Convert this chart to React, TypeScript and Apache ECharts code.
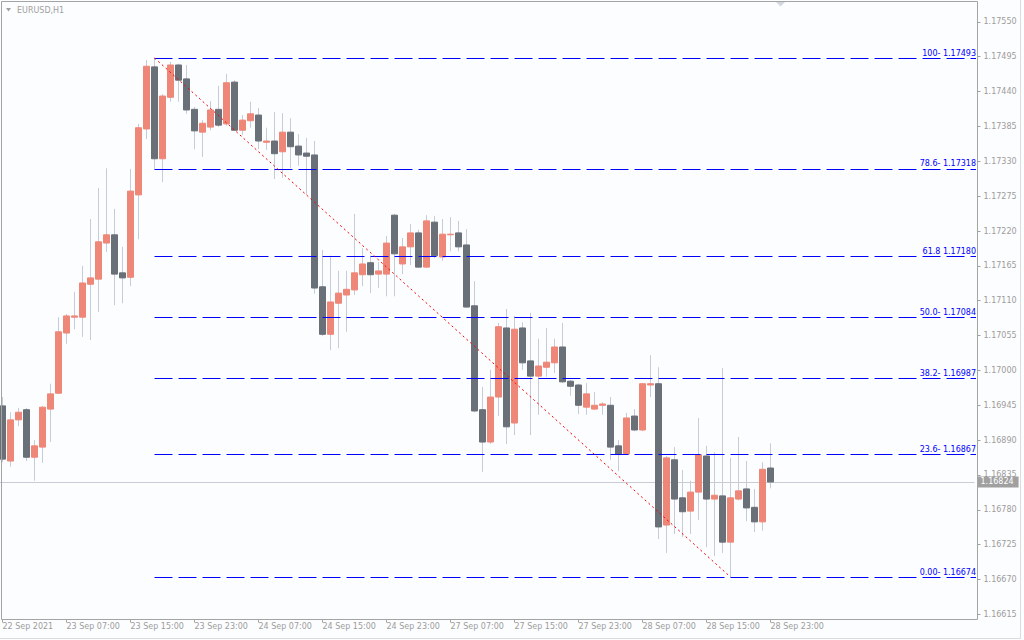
import React, { useEffect, useRef } from "react";
import * as echarts from "echarts";

const FONT = "DejaVu Sans";
const BULL = "#ef8778";
const BEAR = "#6a7078";
const WICK = "#c6cbd8";
const AXIS_TEXT = "#9c9c9c";

// Hourly bars (broker time), plus empty future slots on the right
const firstBar = "22 Sep 23:00";
const days = ["23 Sep", "24 Sep", "27 Sep", "28 Sep", "29 Sep", "30 Sep"];
const hours = Array.from({ length: 24 }, (_, h) => String(h).padStart(2, "0") + ":00");
const categories = [firstBar, ...days.flatMap((d) => hours.map((h) => `${d} ${h}`))].slice(0, 122);

const tickLabels = [
  "22 Sep 2021", "23 Sep 07:00", "23 Sep 15:00", "23 Sep 23:00", "24 Sep 07:00",
  "24 Sep 15:00", "24 Sep 23:00", "27 Sep 07:00", "27 Sep 15:00", "27 Sep 23:00",
  "28 Sep 07:00", "28 Sep 15:00", "28 Sep 23:00",
];

const opens = [
  1.16944, 1.16857, 1.16922, 1.16938, 1.16863, 1.16879, 1.16939, 1.16964, 1.17059, 1.17084,
  1.17084, 1.17136, 1.17144, 1.17201, 1.17214, 1.17154, 1.17147, 1.17277, 1.17381, 1.17479,
  1.17334, 1.17431, 1.17482, 1.17460, 1.17412, 1.17376, 1.17384, 1.17412, 1.17389, 1.17455,
  1.17379, 1.17394, 1.17403, 1.17360, 1.17362, 1.17345, 1.17376, 1.17354, 1.17343, 1.17340,
  1.17132, 1.17057, 1.17106, 1.17119, 1.17127, 1.17151, 1.17170, 1.17152, 1.17152, 1.17245,
  1.17168, 1.17195, 1.17217, 1.17163, 1.17234, 1.17179, 1.17214, 1.17217, 1.17198, 1.17102,
  1.16938, 1.16887, 1.16958, 1.17067, 1.16917, 1.17067, 1.17015, 1.16991, 1.17005, 1.17012,
  1.17037, 1.16983, 1.16977, 1.16942, 1.16939, 1.16945, 1.16945, 1.16881, 1.16868, 1.16928,
  1.16906, 1.16977, 1.16979, 1.16756, 1.16859, 1.16799, 1.16778, 1.16808, 1.16865, 1.16797,
  1.16802, 1.16729, 1.16797, 1.16813, 1.16784, 1.16761, 1.16846,
];
const highs = [
  1.16958, 1.16934, 1.16941, 1.16941, 1.16890, 1.16944, 1.16979, 1.17084, 1.17089, 1.17124,
  1.17165, 1.17239, 1.17288, 1.17319, 1.17255, 1.17195, 1.17318, 1.17389, 1.17490, 1.17493,
  1.17436, 1.17487, 1.17484, 1.17482, 1.17416, 1.17395, 1.17425, 1.17449, 1.17468, 1.17458,
  1.17403, 1.17424, 1.17414, 1.17383, 1.17408, 1.17406, 1.17398, 1.17373, 1.17367, 1.17362,
  1.17190, 1.17181, 1.17157, 1.17157, 1.17247, 1.17193, 1.17181, 1.17171, 1.17212, 1.17247,
  1.17209, 1.17231, 1.17222, 1.17245, 1.17244, 1.17239, 1.17242, 1.17236, 1.17223, 1.17141,
  1.16974, 1.17001, 1.17075, 1.17097, 1.17086, 1.17076, 1.17091, 1.17050, 1.17067, 1.17050,
  1.17075, 1.16985, 1.16979, 1.16980, 1.16966, 1.16950, 1.16958, 1.16890, 1.16933, 1.16939,
  1.16980, 1.17024, 1.17005, 1.16865, 1.16879, 1.16843, 1.16826, 1.16925, 1.16881, 1.16871,
  1.17004, 1.16862, 1.16895, 1.16857, 1.16813, 1.16855, 1.16885,
];
const lows = [
  1.16855, 1.16848, 1.16912, 1.16857, 1.16826, 1.16854, 1.16887, 1.16963, 1.17042, 1.17065,
  1.17053, 1.17048, 1.17092, 1.17187, 1.17103, 1.17106, 1.17133, 1.17207, 1.17365, 1.17318,
  1.17297, 1.17424, 1.17424, 1.17405, 1.17349, 1.17337, 1.17379, 1.17384, 1.17386, 1.17378,
  1.17372, 1.17383, 1.17349, 1.17348, 1.17302, 1.17304, 1.17319, 1.17323, 1.17277, 1.17121,
  1.17054, 1.17032, 1.17035, 1.17061, 1.17119, 1.17133, 1.17122, 1.17130, 1.17117, 1.17117,
  1.17152, 1.17166, 1.17162, 1.17162, 1.17177, 1.17173, 1.17188, 1.17188, 1.17099, 1.16934,
  1.16840, 1.16884, 1.16928, 1.16884, 1.16898, 1.17001, 1.16898, 1.16930, 1.16990, 1.16996,
  1.16980, 1.16960, 1.16931, 1.16930, 1.16938, 1.16930, 1.16859, 1.16841, 1.16867, 1.16904,
  1.16904, 1.16958, 1.16734, 1.16712, 1.16742, 1.16737, 1.16742, 1.16764, 1.16721, 1.16707,
  1.16712, 1.16674, 1.16795, 1.16762, 1.16745, 1.16747, 1.16814,
];
const closes = [
  1.16860, 1.16922, 1.16934, 1.16863, 1.16881, 1.16942, 1.16963, 1.17061, 1.17086, 1.17086,
  1.17138, 1.17146, 1.17203, 1.17214, 1.17152, 1.17146, 1.17283, 1.17383, 1.17480, 1.17334,
  1.17433, 1.17482, 1.17458, 1.17411, 1.17378, 1.17390, 1.17411, 1.17387, 1.17454, 1.17379,
  1.17395, 1.17405, 1.17362, 1.17362, 1.17342, 1.17376, 1.17353, 1.17340, 1.17338, 1.17130,
  1.17057, 1.17108, 1.17122, 1.17128, 1.17154, 1.17168, 1.17151, 1.17157, 1.17201, 1.17184,
  1.17195, 1.17217, 1.17163, 1.17236, 1.17181, 1.17215, 1.17215, 1.17195, 1.17100, 1.16936,
  1.16887, 1.16958, 1.17069, 1.16911, 1.17065, 1.17012, 1.16991, 1.17007, 1.17013, 1.17037,
  1.16982, 1.16975, 1.16945, 1.16963, 1.16945, 1.16947, 1.16879, 1.16868, 1.16925, 1.16906,
  1.16979, 1.16979, 1.16753, 1.16862, 1.16797, 1.16777, 1.16808, 1.16867, 1.16797, 1.16803,
  1.16729, 1.16799, 1.16810, 1.16783, 1.16761, 1.16844, 1.16824,
];

const fibPrices = [1.17493, 1.17318, 1.1718, 1.17084, 1.16987, 1.16867, 1.16674];
const fibLabels = [
  "100- 1.17493", "78.6- 1.17318", "61.8 1.17180", "50.0- 1.17084",
  "38.2- 1.16987", "23.6- 1.16867", "0.00- 1.16674",
];

const yTickMin = 1.16615;
const yTickStep = 0.00055;

export default function App() {
  const ref = useRef<HTMLDivElement>(null);

  useEffect(() => {
    if (!ref.current) return;
    const chart = echarts.init(ref.current, null, { renderer: "svg" });

    const wickData = lows.map((l, i) => [l, highs[i], l, highs[i]]);
    const bodyData = opens.map((o, i) => [o, closes[i], Math.min(o, closes[i]), Math.max(o, closes[i])]);

    const hiIdx = highs.indexOf(Math.max(...highs));
    const loIdx = lows.indexOf(Math.min(...lows));
    const lastClose = closes[closes.length - 1];

    const fibLines = fibPrices.map((p, k) => [
      { coord: [categories[hiIdx], p] },
      {
        yAxis: p,
        x: 976,
        label: {
          show: true,
          position: "insideEndTop",
          formatter: fibLabels[k],
          color: "#0000ff",
          fontFamily: FONT,
          fontSize: 8,
          distance: [0, 1],
        },
      },
    ]);

    const option: any = {
      animation: false,
      backgroundColor: "#fcfdfe",
      grid: {
        left: -1.5,
        right: 49.5,
        top: -12.97,
        bottom: 25.6,
        containLabel: false,
        outerBoundsMode: "none",
      },
      xAxis: {
        type: "category",
        data: categories,
        boundaryGap: true,
        offset: 5.1,
        axisLine: { show: false },
        axisTick: {
          show: true,
          alignWithLabel: true,
          length: 3,
          interval: (i: number) => i % 8 === 0 && i <= 96,
          lineStyle: { color: "#a0a0a0" },
        },
        axisLabel: {
          interval: (i: number) => i % 8 === 0 && i <= 96,
          formatter: (_v: string, i: number) => tickLabels[i / 8] ?? "",
          align: "left",
          margin: 3,
          color: AXIS_TEXT,
          fontFamily: FONT,
          fontSize: 8,
        },
        splitLine: { show: false },
      },
      yAxis: {
        type: "value",
        position: "right",
        min: yTickMin,
        max: 1.17605,
        interval: yTickStep,
        offset: 3,
        axisLine: { show: false },
        axisTick: { show: true, length: 3, lineStyle: { color: "#a0a0a0" } },
        axisLabel: {
          formatter: (v: number) => v.toFixed(5),
          margin: 6,
          color: AXIS_TEXT,
          fontFamily: FONT,
          fontSize: 8,
          showMaxLabel: false,
        },
        splitLine: { show: false },
      },
      series: [
        {
          type: "candlestick",
          name: "wicks",
          data: wickData,
          barWidth: 1,
          silent: true,
          itemStyle: { color: WICK, color0: WICK, borderColor: WICK, borderColor0: WICK, borderWidth: 1 },
          emphasis: { disabled: true },
          markLine: {
            z: 1,
            silent: true,
            symbol: "none",
            precision: 5,
            animation: false,
            lineStyle: { color: "#c8ccd4", width: 1, type: "solid" },
            label: {
              show: true,
              position: "end",
              formatter: lastClose.toFixed(5),
              backgroundColor: "#a0a0a0",
              color: "#ffffff",
              padding: [2, 5, 1, 3],
              distance: 3,
              fontFamily: FONT,
              fontSize: 8,
            },
            data: [{ yAxis: lastClose }],
          },
        },
        {
          type: "candlestick",
          name: "EURUSD,H1",
          data: bodyData,
          barWidth: 6,
          silent: true,
          itemStyle: { color: BULL, color0: BEAR, borderColor: BULL, borderColor0: BEAR, borderWidth: 1 },
          emphasis: { disabled: true },
          markLine: {
            silent: true,
            symbol: "none",
            precision: 5,
            animation: false,
            lineStyle: { color: "#0000ff", width: 1, type: [18, 6] },
            label: { show: false },
            data: [
              ...fibLines,
              [
                {
                  coord: [categories[hiIdx], highs[hiIdx]],
                  lineStyle: { color: "#ff0000", width: 1, type: [2, 3] },
                  label: { show: false },
                },
                { coord: [categories[loIdx], lows[loIdx]] },
              ],
            ],
          },
        },
      ],
      graphic: [
        {
          type: "rect",
          z: 100,
          silent: true,
          shape: { x: 1.5, y: 1.5, width: 976, height: 618 },
          style: { fill: "none", stroke: "#a4a4a4", lineWidth: 1 },
        },
        {
          type: "line",
          z: 100,
          silent: true,
          shape: { x1: 1020.5, y1: 0, x2: 1020.5, y2: 639 },
          style: { stroke: "#dcdcdc", lineWidth: 1 },
        },
        {
          type: "line",
          z: 100,
          silent: true,
          shape: { x1: 0, y1: 638.5, x2: 1021, y2: 638.5 },
          style: { stroke: "#dcdcdc", lineWidth: 1 },
        },
        {
          type: "polygon",
          z: 100,
          silent: true,
          shape: { points: [[6, 8], [11, 8], [8.5, 11.5]] },
          style: { fill: "#a0a0a0" },
        },
        {
          type: "text",
          z: 100,
          silent: true,
          x: 17,
          y: 10,
          style: {
            text: "EURUSD,H1",
            fill: "#a0a0a0",
            fontFamily: FONT,
            fontSize: 8,
            verticalAlign: "middle",
          },
        },
        {
          type: "polygon",
          z: 100,
          silent: true,
          shape: { points: [[776, 2], [785, 2], [780.5, 6.5]] },
          style: { fill: "#d3d7de" },
        },
      ],
    };

    chart.setOption(option);
    return () => chart.dispose();
  }, []);

  return (
    <div
      ref={ref}
      style={{ position: "fixed", left: 0, top: 0, width: 1024, height: 640 }}
    />
  );
}
